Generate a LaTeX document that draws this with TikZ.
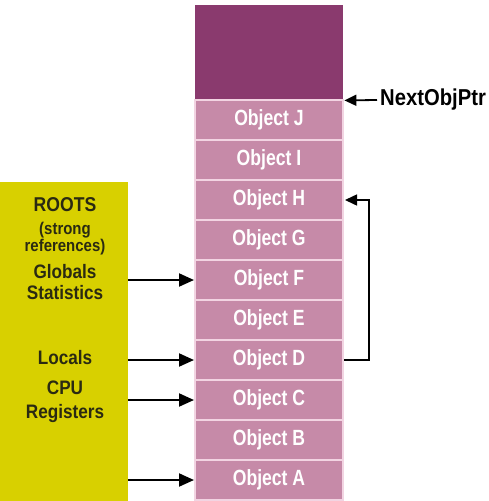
\documentclass[tikz,border=0pt]{standalone}
\usepackage{fontspec}
\setmainfont{Liberation Sans}
\newfontfamily\objfont{Liberation Sans}[FakeStretch=0.8]
\newfontfamily\rootfont{Liberation Sans}[FakeStretch=0.88]
\usetikzlibrary{arrows.meta}
\definecolor{heapdark}{HTML}{8A3A6E}
\definecolor{heapobj}{HTML}{C68AA8}
\definecolor{divider}{HTML}{F2D4E2}
\definecolor{rootyellow}{HTML}{D8D000}
\definecolor{roottxt}{HTML}{2A2A12}
\begin{document}
\begin{tikzpicture}[x=1pt,y=-1pt,
  obj/.style={rectangle, fill=heapobj, draw=divider, line width=2pt,
    minimum width=148pt, minimum height=40pt, inner sep=0pt, text=white,
    font=\objfont\bfseries\fontsize{22}{22}\selectfont},
  rootbig/.style={font=\rootfont\bfseries\fontsize{20}{20}\selectfont, inner sep=0pt, text=roottxt},
  rootmid/.style={font=\rootfont\bfseries\fontsize{19.5}{19.5}\selectfont, inner sep=0pt, text=roottxt},
  rootsmall/.style={font=\rootfont\bfseries\fontsize{17}{17}\selectfont, inner sep=0pt, text=roottxt},
  refarrow/.style={-{Triangle[length=15pt,width=13pt]}, line width=2pt},
  ptrarrow/.style={-{Triangle[length=12pt,width=11pt]}, line width=1.8pt}
]
\useasboundingbox (0,0) rectangle (488,501);
% free space at the top of the heap
\node[fill=heapdark, minimum width=148pt, minimum height=95pt, inner sep=0pt, anchor=north west] (free) at (195,5) {};
% objects
\foreach \n [count=\i from 0] in {J,I,H,G,F,E,D,C,B,A}
  \node[obj] (o\n) at (269,120+40*\i) {Object \n};
% roots box
\node[fill=rootyellow, minimum width=128pt, minimum height=319pt, inner sep=0pt, anchor=north west] (yb) at (0,182) {};
\node[rootbig]   (r1) at (65,205) {ROOTS};
\node[rootsmall] (r2) at (65,230) {(strong};
\node[rootsmall] (r3) at (65,247) {references)};
\node[rootmid]   (r4) at (65,272) {Globals};
\node[rootmid]   (r5) at (65,293) {Statistics};
\node[rootmid]   (r6) at (65,358) {Locals};
\node[rootmid]   (r7) at (65,388) {CPU};
\node[rootmid]   (r8) at (65,413) {Registers};
% root references
\draw[refarrow] (yb.east |- oF) -- (oF.west);
\draw[refarrow] (yb.east |- oD) -- (oD.west);
\draw[refarrow] (yb.east |- oC) -- (oC.west);
\draw[refarrow] (yb.east |- oA) -- (oA.west);
% NextObjPtr
\node[anchor=west, inner sep=0pt, font=\rootfont\bfseries\fontsize{23}{23}\selectfont] (nptr) at (380,100) {NextObjPtr};
\draw[ptrarrow] ([xshift=-3pt]nptr.west) -- ([xshift=1pt]free.south east);
% D references H
\draw[ptrarrow, line width=1.5pt] (oD.east) -- ++(25,0) |- ([xshift=1pt]oH.east);
\end{tikzpicture}
\end{document}
